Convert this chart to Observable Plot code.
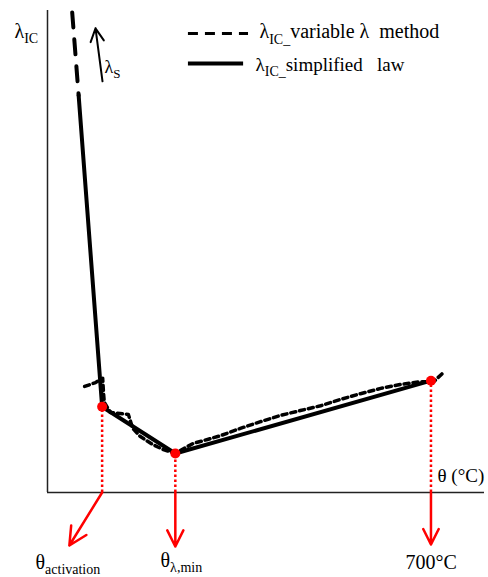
<!DOCTYPE html>
<html><head><meta charset="utf-8">
<script src="https://cdn.jsdelivr.net/npm/d3@7"></script>
<script src="https://cdn.jsdelivr.net/npm/@observablehq/plot@0.6"></script>
<style>body{margin:0;background:#fff}</style>
</head><body><div id="chart"></div>
<script>
// Key temperatures: θ_activation, θ_λ,min, 700 °C (schematic units)
const keyTheta = [100, 234, 702];
const keyLambda = [1.78, 0.81, 2.32];
// λIC simplified law (solid)
const simplifiedTheta = [57, 100, 234, 702];
const simplifiedLambda = [8.24, 1.78, 0.81, 2.32];
// λIC variable λ method (dashed) - steep upper part
const variableTopTheta = [45.2, 57];
const variableTopLambda = [9.96, 8.24];
// λIC variable λ method (dashed) - noisy lower part
const variableTheta = [68, 88, 101, 102.5, 104, 115, 148, 156, 170, 192, 212, 229, 243, 267, 293, 317, 353, 390, 427, 463, 500, 536, 573, 610, 646, 683, 707, 723];
const variableLambda = [2.20, 2.28, 2.37, 2.07, 1.87, 1.66, 1.62, 1.33, 1.16, 1.00, 0.89, 0.83, 0.87, 1.02, 1.10, 1.18, 1.33, 1.47, 1.60, 1.70, 1.80, 1.93, 2.05, 2.16, 2.24, 2.30, 2.30, 2.47];
// Arrow end points below the θ axis
const arrowEndTheta = [40, 234, 702];
const arrowEndLambda = [-1.10, -1.12, -1.08];
// λS arrow
const lambdaSArrow = {x1: 100.7, y1: 8.53, x2: 87.9, y2: 9.63};

const key = keyTheta.map((t, i) => ({t, l: keyLambda[i]}));
const simplified = simplifiedTheta.map((t, i) => ({t, l: simplifiedLambda[i]}));
const varTop = variableTopTheta.map((t, i) => ({t, l: variableTopLambda[i]}));
const variable = variableTheta.map((t, i) => ({t, l: variableLambda[i]}));
const arrows = keyTheta.map((t, i) => ({x1: t, y1: -0.0, x2: arrowEndTheta[i], y2: arrowEndLambda[i]}));

const FONT = "Liberation Serif";
const ctx = document.createElement("canvas").getContext("2d");
function textW(t, size) { ctx.font = `${size}px '${FONT}'`; return ctx.measureText(t).width; }
function rich(d, main, sub, drop) {
  let dx = 0; const out = [];
  for (const [t, isSub] of d.parts) {
    const size = isSub ? sub : main;
    out.push(Plot.text([d], {x: "x", y: "y", text: () => t, dx, dy: isSub ? drop : 0,
      fontSize: size, fontFamily: FONT, textAnchor: "start", lineAnchor: "bottom", fill: "black"}));
    dx += textW(t, size);
  }
  return out;
}
const labels = [
  [{x: -60.4, y: 9.42, parts: [["λ"], ["IC", 1]]}, 20, 14, 5],
  [{x: 104.3, y: 8.71, parts: [["λ"], ["S", 1]]}, 18, 13, 5],
  [{x: 388, y: 9.42, parts: [["λ"], ["IC_", 1], ["variable λ\u00a0 method"]]}, 20, 14, 6],
  [{x: 380.8, y: 8.755, parts: [["λ"], ["IC_", 1], ["simplified\u00a0\u00a0 law"]]}, 19, 14, 5],
  [{x: 714, y: 0.228, parts: [["θ (°C)"]]}, 19, 14, 5],
  [{x: -22, y: -1.577, parts: [["θ"], ["activation", 1]]}, 20, 14, 5],
  [{x: 206.9, y: -1.556, parts: [["θ"], ["λ,min", 1]]}, 20, 14, 5],
  [{x: 655.4, y: -1.577, parts: [["700°C"]]}, 20, 14, 5]
];

const chart = Plot.plot({
  width: 488, height: 577,
  marginLeft: 47, marginRight: 4, marginTop: 10, marginBottom: 85,
  x: {domain: [0, 800], axis: null},
  y: {domain: [0, 10], axis: null},
  style: {background: "white", overflow: "visible"},
  marks: [
    Plot.ruleX([0], {stroke: "#222", strokeWidth: 1.5}),
    Plot.ruleY([0], {stroke: "#222", strokeWidth: 1.5}),
    Plot.ruleX(key, {x: "t", y1: 0, y2: "l", stroke: "red", strokeWidth: 2.5, strokeDasharray: "2.5,2.5"}),
    Plot.arrow(arrows, {x1: "x1", y1: "y1", x2: "x2", y2: "y2", stroke: "red", strokeWidth: 2.5, headLength: 12, headAngle: 53}),
    Plot.line(varTop, {x: "t", y: "l", stroke: "black", strokeWidth: 4, strokeDasharray: "15,12"}),
    Plot.line(variable, {x: "t", y: "l", stroke: "black", strokeWidth: 3.5, strokeDasharray: "5,4"}),
    Plot.line(simplified, {x: "t", y: "l", stroke: "black", strokeWidth: 4}),
    Plot.dot(key, {x: "t", y: "l", r: 5, fill: "red"}),
    Plot.arrow([lambdaSArrow], {x1: "x1", y1: "y1", x2: "x2", y2: "y2", stroke: "black", strokeWidth: 2, headLength: 11, headAngle: 54}),
    // legend samples
    Plot.ruleY([9.523], {x1: 258, x2: 368, stroke: "black", strokeWidth: 3, strokeDasharray: "10,7"}),
    Plot.ruleY([8.90], {x1: 258, x2: 359, stroke: "black", strokeWidth: 4}),
    ...labels.flatMap(([d, m, s, dr]) => rich(d, m, s, dr))
  ]
});
d3.select(chart).selectAll("text").attr("font-family", FONT).style("font-family", `'${FONT}'`);
document.getElementById("chart").append(chart);
</script></body></html>
